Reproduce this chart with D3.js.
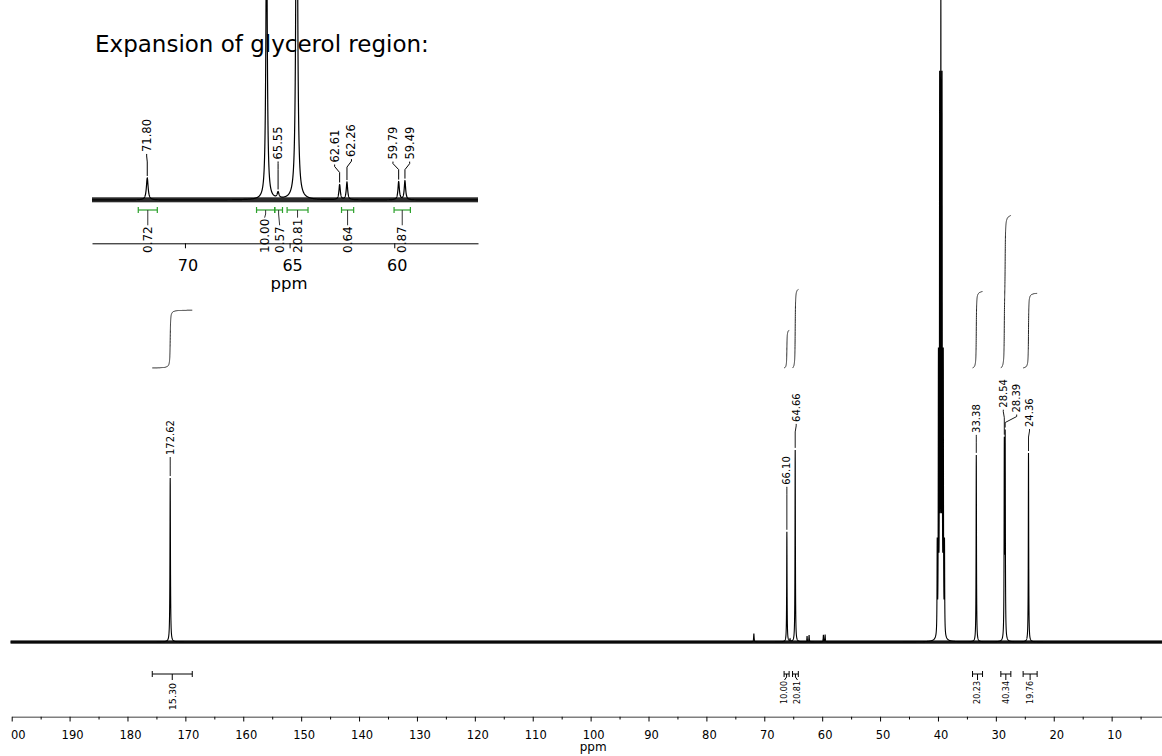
<!DOCTYPE html>
<html>
<head>
<meta charset="utf-8">
<script src="https://cdn.jsdelivr.net/npm/d3@7"></script>
<style>
  body { margin: 0; background: #fff; }
  text { font-family: "DejaVu Sans", Verdana, sans-serif; fill: #000; }
</style>
</head>
<body>
<div id="spektrum"></div>
<script>
// peak list (ppm, relative height, half width in ppm)
const peakPpm    = [172.62, 71.80, 66.10, 65.55, 64.66, 62.61, 62.26, 59.79, 59.49,
                    40.13, 39.92, 39.71, 39.50, 39.29, 39.08, 38.87,
                    33.38, 28.54, 28.39, 24.36];
const peakHeight = [85.4, 4.4, 57.3, 1.2, 100, 3.0, 3.5, 3.6, 3.8,
                    47, 141, 282, 329, 282, 141, 47,
                    97.4, 100, 104, 98.4];
const peakWidth  = [0.05, 0.05, 0.04, 0.05, 0.04, 0.04, 0.04, 0.04, 0.04,
                    0.035, 0.035, 0.035, 0.035, 0.035, 0.035, 0.035,
                    0.04, 0.04, 0.04, 0.04];

// labelled peaks
const mainLabelPpm  = [172.62, 66.10, 64.66, 33.38, 28.54, 28.39, 24.36];
const insetLabelPpm = [71.80, 65.55, 62.61, 62.26, 59.79, 59.49];

// integrals of the full spectrum
const mainIntFrom  = [175.72, 66.58, 65.12, 34.03, 29.14, 25.29];
const mainIntTo    = [168.81, 65.71, 64.12, 32.30, 27.41, 22.87];
const mainIntValue = ["15.30", "10.00", "20.81", "20.23", "40.34", "19.76"];

// integrals of the glycerol expansion
const insetIntFrom  = [72.23, 66.58, 65.71, 65.12, 62.52, 60.01];
const insetIntTo    = [71.32, 65.71, 65.34, 64.12, 61.94, 59.23];
const insetIntValue = ["0.72", "10.00", "0.57", "20.81", "0.64", "0.87"];

// axis ticks
const mainTicks      = [200, 190, 180, 170, 160, 150, 140, 130, 120, 110, 100, 90, 80, 70, 60, 50, 40, 30, 20, 10];
const mainMinorTicks = [195, 185, 175, 165, 155, 145, 135, 125, 115, 105, 95, 85, 75, 65, 55, 45, 35, 25, 15, 5];
const insetTicks     = [70, 65, 60];

// label placement (px offsets from the peak, lift above the peak top)
const mainLabelDx    = [0, 0, 1, 0, -1, 11.5, 1];
const mainLabelLift  = [23, 47, 28, 22, 29, 17, 26];
const insetLabelDx   = [-0.6, 0, -5, 4.5, -5.7, 4.7];
const insetLabelLift = [26, 32, 22, 25, 22, 21];

const genislik = 1162, yukseklik = 756;

const svg = d3.select("#spektrum").append("svg")
  .attr("width", genislik)
  .attr("height", yukseklik);

const defs = svg.append("defs");
defs.append("clipPath").attr("id", "eksenKirp")
  .append("rect").attr("x", 11).attr("y", 0).attr("width", genislik).attr("height", yukseklik);
defs.append("clipPath").attr("id", "icKirp")
  .append("rect").attr("x", 92).attr("y", 0).attr("width", 386).attr("height", 215);

// Lorentzian sum
function siddet(ppm) {
  let s = 0;
  for (let i = 0; i < peakPpm.length; i++) {
    const d = ppm - peakPpm[i], w = peakWidth[i];
    s += peakHeight[i] * w * w / (d * d + w * w);
  }
  return s;
}

function ornekler(bas, son, adim) {
  const p = d3.range(bas, son, -adim).concat(peakPpm.filter(v => v <= bas && v >= son));
  return p.sort((a, b) => b - a);
}

function yaymak(xs, bosluk) {
  const out = xs.slice();
  for (let k = 0; k < 60; k++) {
    for (let i = 1; i < out.length; i++) {
      const d = out[i] - out[i - 1];
      if (d < bosluk) { const m = (bosluk - d) / 2; out[i - 1] -= m; out[i] += m; }
    }
  }
  return out;
}

function oncu(lx, lb, px, tepe) {
  const y3 = Math.min(lb + 10, tepe - 4);
  return d3.line()([[lx, lb + 2], [lx, lb + 4], [px, y3], [px, tepe - 2]]);
}

// ================= main spectrum =================
const x = d3.scaleLinear().domain([200, 1.3]).range([11.7, 1162]);
const y = d3.scaleLinear().domain([0, 100]).range([642, 450]);
const yInt = d3.scaleLinear().domain([0, 40]).range([368, 368 - 40 * 3.78]);

const ana = svg.append("g");

// baseline noise band
ana.append("rect")
  .attr("x", x(200.2)).attr("y", 640.4)
  .attr("width", genislik - x(200.2)).attr("height", 3.3)
  .attr("fill", "#151515");

const anaNokta = ornekler(200.2, 1.3, 0.01);
ana.append("path")
  .attr("d", d3.line().x(d => x(d)).y(d => y(siddet(d)))(anaNokta))
  .attr("fill", "none").attr("stroke", "#000").attr("stroke-width", 1.1);

// integral curves
mainIntFrom.forEach((bas, i) => {
  const son = mainIntTo[i];
  const p = d3.range(bas, son, -0.004); p.push(son);
  let top = 0; const c = [0];
  for (let k = 1; k < p.length; k++) { top += (siddet(p[k - 1]) + siddet(p[k])) / 2; c.push(top); }
  const v = +mainIntValue[i];
  ana.append("path")
    .attr("d", d3.line()(p.map((q, k) => [x(q), yInt(c[k] / top * v)])))
    .attr("fill", "none").attr("stroke", "#222").attr("stroke-width", 1);
});

// integral brackets and labels
const anaMerkez = mainIntFrom.map((b, i) => (x(b) + x(mainIntTo[i])) / 2);
const anaEtiketX = yaymak(anaMerkez, 13);
mainIntFrom.forEach((bas, i) => {
  const x1 = x(bas), x2 = x(mainIntTo[i]);
  const g = ana.append("g").attr("stroke", "#000").attr("stroke-width", 1);
  g.append("line").attr("x1", x1).attr("x2", x2).attr("y1", 674).attr("y2", 674);
  g.append("line").attr("x1", x1).attr("x2", x1).attr("y1", 671).attr("y2", 677);
  g.append("line").attr("x1", x2).attr("x2", x2).attr("y1", 671).attr("y2", 677);
  g.append("path").attr("fill", "none")
    .attr("d", d3.line()([[anaMerkez[i], 674], [anaMerkez[i], 677], [anaEtiketX[i], 680]]));
  const kucuk = (x2 - x1) < 25;
  ana.append("text")
    .attr("transform", `translate(${anaEtiketX[i]},${kucuk ? 681 : 683}) rotate(-90)`)
    .attr("text-anchor", "end").attr("dy", "0.35em")
    .style("font-size", kucuk ? "8px" : "9.5px")
    .text(mainIntValue[i]);
});

// peak labels
mainLabelPpm.forEach((p, i) => {
  const px = x(p), tepe = y(siddet(p));
  const lx = px + mainLabelDx[i], lb = tepe - mainLabelLift[i];
  ana.append("path").attr("d", oncu(lx, lb, px, tepe))
    .attr("fill", "none").attr("stroke", "#000").attr("stroke-width", 0.9);
  ana.append("text")
    .attr("transform", `translate(${lx},${lb}) rotate(-90)`)
    .attr("dy", "0.35em").style("font-size", "10px")
    .text(p.toFixed(2));
});

// axis
const eksen = ana.append("g").attr("transform", "translate(0,716.5)").attr("clip-path", "url(#eksenKirp)");
eksen.call(d3.axisBottom(x).tickValues(mainTicks).tickSize(5).tickSizeOuter(0).tickPadding(9.5)
  .tickFormat(d3.format("d")));
eksen.append("g").call(d3.axisBottom(x).tickValues(mainMinorTicks).tickSize(3).tickSizeOuter(0).tickFormat(""))
  .select(".domain").remove();
eksen.selectAll("text").attr("dx", 2.5).style("font-size", "11.5px")
  .style("font-family", "DejaVu Sans, Verdana, sans-serif").attr("fill", "#000");
eksen.selectAll("line, path").attr("stroke", "#000");

ana.append("text").attr("x", x(100) + 2.5).attr("y", 751)
  .attr("text-anchor", "middle").style("font-size", "12px").text("ppm");

// ================= glycerol expansion =================
const xi = d3.scaleLinear().domain([74.44, 56.0]).range([92, 478]);
const yi = d3.scaleLinear().domain([0, 100]).range([200, -300]);

const ic = svg.append("g");
const icSpektrum = ic.append("g").attr("clip-path", "url(#icKirp)");

// baseline noise band
icSpektrum.append("rect")
  .attr("x", 92).attr("y", 197.3).attr("width", 386).attr("height", 5)
  .attr("fill", "#2a2a2a");

const icNokta = ornekler(74.44, 56.0, 0.004);
icSpektrum.append("path")
  .attr("d", d3.line().x(d => xi(d)).y(d => yi(siddet(d)))(icNokta))
  .attr("fill", "none").attr("stroke", "#000").attr("stroke-width", 1.2);

// peak labels
insetLabelPpm.forEach((p, i) => {
  const px = xi(p), tepe = yi(siddet(p));
  const lx = px + insetLabelDx[i], lb = tepe - insetLabelLift[i];
  ic.append("path").attr("d", oncu(lx, lb, px, tepe))
    .attr("fill", "none").attr("stroke", "#000").attr("stroke-width", 1);
  ic.append("text")
    .attr("transform", `translate(${lx},${lb}) rotate(-90)`)
    .attr("dy", "0.35em").style("font-size", "11.5px")
    .text(p.toFixed(2));
});

// integral brackets (green) and labels
const icMerkez = insetIntFrom.map((b, i) => (xi(b) + xi(insetIntTo[i])) / 2);
const icEtiketX = yaymak(icMerkez, 15);
insetIntFrom.forEach((bas, i) => {
  const x1 = xi(bas), x2 = xi(insetIntTo[i]);
  const g = ic.append("g").attr("stroke", "#2ca02c").attr("stroke-width", 1.2);
  g.append("line").attr("x1", x1).attr("x2", x2).attr("y1", 210).attr("y2", 210);
  g.append("line").attr("x1", x1).attr("x2", x1).attr("y1", 207).attr("y2", 213);
  g.append("line").attr("x1", x2).attr("x2", x2).attr("y1", 207).attr("y2", 213);
  const etiket = ic.append("text")
    .attr("transform", `translate(${icEtiketX[i]},253) rotate(-90)`)
    .attr("dy", "0.35em").style("font-size", "12px")
    .text(insetIntValue[i]);
  const ust = 253 - etiket.node().getComputedTextLength() - 1;
  ic.append("path").attr("fill", "none").attr("stroke", "#333").attr("stroke-width", 1)
    .attr("d", d3.line()([[icMerkez[i], 210], [icMerkez[i], Math.min(214, ust)], [icEtiketX[i], ust]]));
});

// axis
const icEksen = ic.append("g").attr("transform", "translate(0,243.3)");
icEksen.call(d3.axisBottom(xi).tickValues(insetTicks).tickSize(5).tickSizeOuter(0).tickPadding(11.5)
  .tickFormat(d3.format("d")));
icEksen.selectAll("text").attr("dx", 2.5).style("font-size", "16px")
  .style("font-family", "DejaVu Sans, Verdana, sans-serif").attr("fill", "#000");
icEksen.selectAll("line, path").attr("stroke", "#000");

ic.append("text").attr("x", 289).attr("y", 289)
  .attr("text-anchor", "middle").style("font-size", "16.5px").text("ppm");

ic.append("text").attr("x", 95).attr("y", 52)
  .style("font-size", "23px").text("Expansion of glycerol region:");
</script>
</body>
</html>
